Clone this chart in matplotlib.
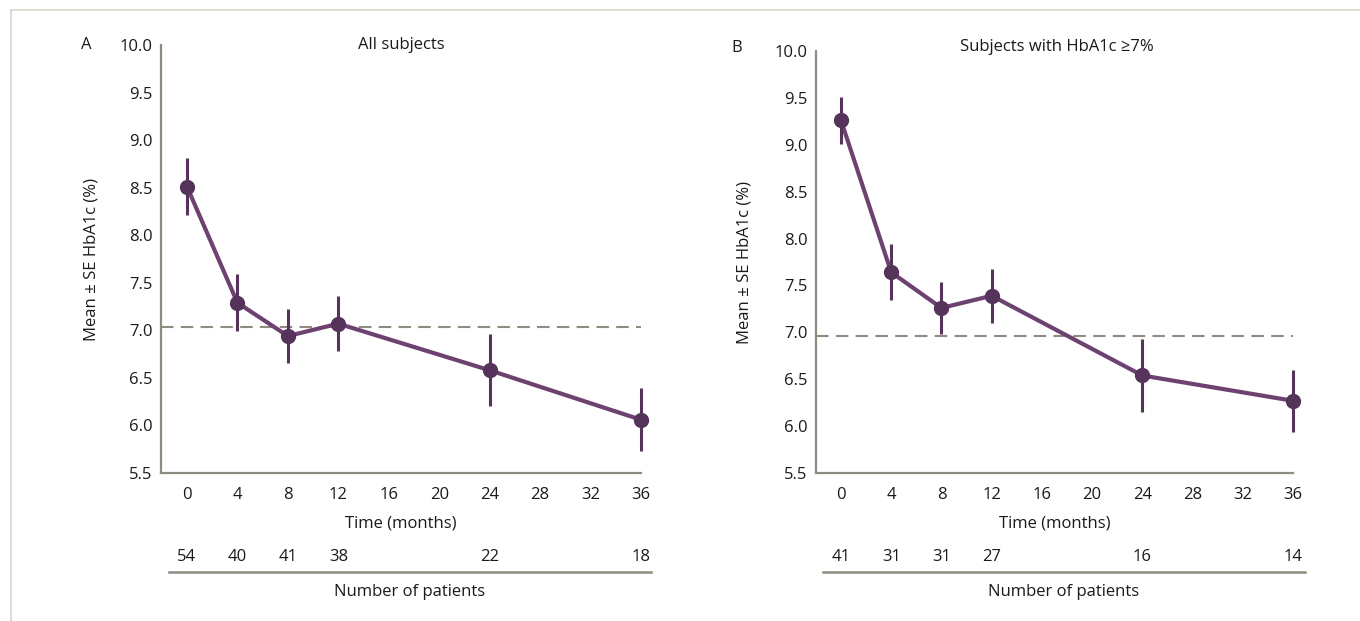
import matplotlib
matplotlib.use("Agg")
import matplotlib.pyplot as plt
from matplotlib.transforms import blended_transform_factory
from matplotlib.lines import Line2D

plt.rcParams['font.family'] = ['Open Sans', 'DejaVu Sans']

months = [0, 4, 8, 12, 24, 36]
xticks = [0, 4, 8, 12, 16, 20, 24, 28, 32, 36]
yticks = [5.5, 6.0, 6.5, 7.0, 7.5, 8.0, 8.5, 9.0, 9.5, 10.0]

mean_all = [8.51, 7.29, 6.94, 7.07, 6.58, 6.06]
se_all = [0.30, 0.30, 0.28, 0.29, 0.38, 0.33]
n_all = [54, 40, 41, 38, 22, 18]
ref_all = 7.04

mean_hi = [9.26, 7.64, 7.26, 7.39, 6.54, 6.27]
se_hi = [0.25, 0.30, 0.28, 0.29, 0.385, 0.33]
n_hi = [41, 31, 31, 27, 16, 14]
ref_hi = 6.96

titles = ["All subjects", "Subjects with HbA1c \u22657%"]
letters = ["A", "B"]

W, H = 1360, 621
fig = plt.figure(figsize=(W / 100, H / 100), dpi=100)

LINE_C = "#6d4271"
MARK_C = "#56335b"
AX_C = "#8f8b80"
BORDER_C = "#d9d6cc"
TXT_C = "#1a1a1a"
FS = 12

panels = [
    dict(left=161, x0=187, x36=641, top=45, bottom=473,
         mean=mean_all, se=se_all, n=n_all, ref=ref_all, lx=86, ly=45,
         tx=401, ty=45, ylx=91, line=(169, 651)),
    dict(left=816, x0=841, x36=1293, top=51, bottom=473,
         mean=mean_hi, se=se_hi, n=n_hi, ref=ref_hi, lx=737, ly=48,
         tx=1057, ty=47, ylx=744, line=(823, 1305)),
]

def fy(py):
    return 1 - py / H

for i, p in enumerate(panels):
    ax = fig.add_axes([p['left'] / W, fy(p['bottom']),
                       (p['x36'] - p['left']) / W, (p['bottom'] - p['top']) / H])
    upp = 36 / (p['x36'] - p['x0'])
    xmin = -(p['x0'] - p['left']) * upp
    ax.set_xlim(xmin, 36)
    ax.set_ylim(5.5, 10.0)
    for s in ['top', 'right']:
        ax.spines[s].set_visible(False)
    for s in ['left', 'bottom']:
        ax.spines[s].set_color(AX_C)
        ax.spines[s].set_linewidth(1.6)
    ax.set_xticks(xticks)
    ax.set_yticks(yticks)
    ax.set_yticklabels([f"{v:.1f}" for v in yticks])
    ax.tick_params(axis='both', length=0, labelsize=FS, colors=TXT_C)
    ax.tick_params(axis='x', pad=10)
    ax.tick_params(axis='y', pad=6)

    ax.axhline(p['ref'], color=AX_C, lw=1.5, dashes=(6, 3.5), zorder=1)
    ax.plot(months, p['mean'], color=LINE_C, lw=3.0, zorder=2, clip_on=False)
    ax.errorbar(months, p['mean'], yerr=p['se'], fmt='o', color=MARK_C,
                ecolor=MARK_C, elinewidth=2.2, capsize=0, markersize=10,
                zorder=3, clip_on=False)

    fig.text(p['lx'] / W, fy(p['ly']), letters[i], fontsize=FS,
             ha='center', va='center', color=TXT_C)
    fig.text(p['tx'] / W, fy(p['ty']), titles[i], fontsize=FS,
             ha='center', va='center', color=TXT_C)
    fig.text(p['ylx'] / W, fy((p['top'] + p['bottom']) / 2),
             "Mean \u00b1 SE HbA1c (%)", rotation=90, fontsize=FS,
             ha='center', va='center', color=TXT_C)

    tr = blended_transform_factory(ax.transData, fig.transFigure)
    fig.text(((p['left'] + p['x36']) / 2) / W, fy(524), "Time (months)",
             fontsize=FS, ha='center', va='center', color=TXT_C)
    for m, n in zip(months, p['n']):
        ax.text(m, fy(557), str(n), transform=tr, fontsize=FS,
                ha='center', va='center', color=TXT_C)
    l0, l1 = p['line']
    fig.add_artist(Line2D([l0 / W, l1 / W], [fy(572), fy(572)],
                          color=AX_C, lw=1.8, transform=fig.transFigure))
    fig.text(((l0 + l1) / 2) / W, fy(592), "Number of patients",
             fontsize=FS, ha='center', va='center', color=TXT_C)

fig.add_artist(Line2D([11 / W, 1.0], [fy(10), fy(10)], color=BORDER_C,
                      lw=1.2, transform=fig.transFigure))
fig.add_artist(Line2D([11 / W, 11 / W], [fy(10), 0.0], color=BORDER_C,
                      lw=1.2, transform=fig.transFigure))

fig.savefig("out.png", dpi=100)
